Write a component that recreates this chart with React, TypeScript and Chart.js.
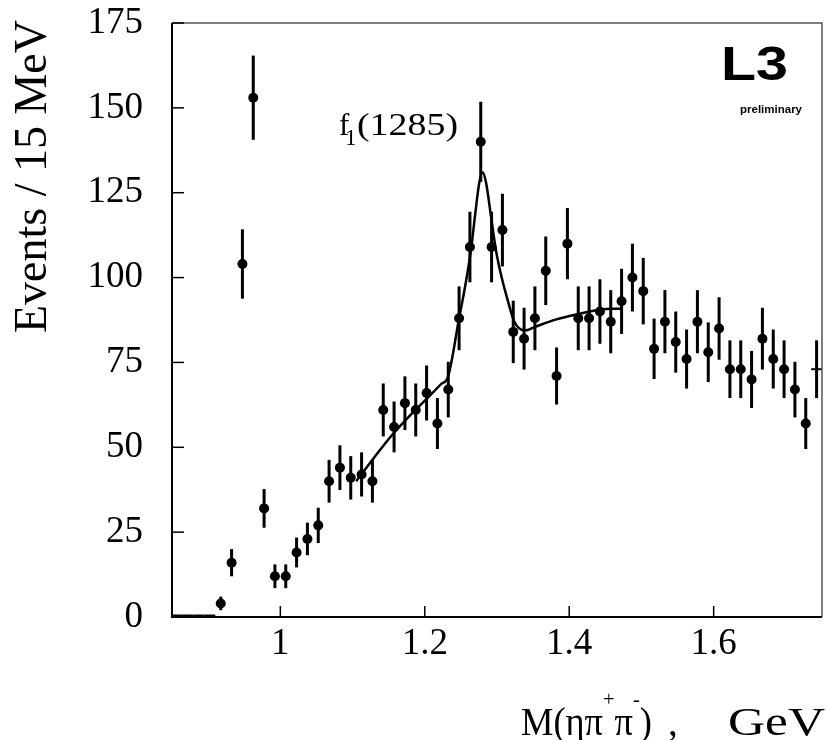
import React, { useEffect, useRef } from 'react';
import { Chart, registerables } from 'chart.js';

Chart.register(...registerables);

// ---- data ----
const massBins = [
  0.9175, 0.9325, 0.9475, 0.9625, 0.9775, 0.9925, 1.0075, 1.0225, 1.0375, 1.0525,
  1.0675, 1.0825, 1.0975, 1.1125, 1.1275, 1.1425, 1.1575, 1.1725, 1.1875, 1.2025,
  1.2175, 1.2325, 1.2475, 1.2625, 1.2775, 1.2925, 1.3075, 1.3225, 1.3375, 1.3525,
  1.3675, 1.3825, 1.3975, 1.4125, 1.4275, 1.4425, 1.4575, 1.4725, 1.4875, 1.5025,
  1.5175, 1.5325, 1.5475, 1.5625, 1.5775, 1.5925, 1.6075, 1.6225, 1.6375, 1.6525,
  1.6675, 1.6825, 1.6975, 1.7125, 1.7275,
];
const eventCounts = [
  4, 16, 104, 153, 32, 12, 12, 19, 23, 27,
  40, 44, 41, 42, 40, 61, 56, 63, 61, 66,
  57, 67, 88, 109, 140, 109, 114, 84, 82, 88,
  102, 71, 110, 88, 88, 90, 87, 93, 100, 96,
  79, 87, 81, 76, 87, 78, 85, 73, 73, 70,
  82, 76, 73, 67, 57,
];
const countErrors = [
  2, 4, 10.2, 12.4, 5.7, 3.5, 3.5, 4.4, 4.8, 5.2,
  6.3, 6.6, 6.4, 6.5, 6.3, 7.8, 7.5, 7.9, 7.8, 8.1,
  7.5, 8.2, 9.4, 10.4, 11.8, 10.4, 10.7, 9.2, 9.1, 9.4,
  10.1, 8.4, 10.5, 9.4, 9.4, 9.5, 9.3, 9.6, 10, 9.8,
  8.9, 9.3, 9, 8.7, 9.3, 8.8, 9.2, 8.5, 8.5, 8.4,
  9.1, 8.7, 8.5, 8.2, 7.5,
];
// last bin, at the right edge, drawn as a cross (no dot)
const edgeBinMass = [1.7425];
const edgeBinCount = [73];
const edgeBinError = [8.5];
// empty bins at the low-mass end
const zeroBins = [0.8575, 0.8725, 0.8875, 0.9025];
const binHalfWidth = 0.0075;

// fitted curve
const fitMass = [
  1.105, 1.13, 1.155, 1.18, 1.205, 1.222, 1.2325, 1.2475, 1.2525, 1.258,
  1.264, 1.27, 1.2755, 1.28, 1.2848, 1.2917, 1.2986, 1.3065, 1.3146, 1.324,
  1.3385, 1.354, 1.381, 1.4135, 1.444, 1.46, 1.4745,
];
const fitCurve = [
  40, 47, 53.7, 59.5, 64.8, 68.5, 71, 88, 93.5, 100,
  108.2, 119, 128, 131, 128, 118, 108, 100, 93.5, 87,
  84.4, 85.6, 87.6, 89.3, 90.6, 90.8, 90.8,
];

const xTickValues = [1, 1.2, 1.4, 1.6];
const xTickLabels = ['1', '1.2', '1.4', '1.6'];
const yTickValues = [0, 25, 50, 75, 100, 125, 150, 175];
const yTickLabels = ['0', '25', '50', '75', '100', '125', '150', '175'];

const SERIF = '"Liberation Serif", "Times New Roman", serif';
const SANS = '"Liberation Sans", Arial, sans-serif';

function fitText(ctx: any, text: string, font: string, x: number, y: number, width: number) {
  ctx.save();
  ctx.font = font;
  ctx.textAlign = 'left';
  const w = ctx.measureText(text).width;
  ctx.translate(x, y);
  ctx.scale(width / w, 1);
  ctx.fillText(text, 0, 0);
  ctx.restore();
}

const overlayPlugin = {
  id: 'overlay',
  afterDatasetsDraw(chart: any) {
    const { ctx, chartArea, scales } = chart;
    const x = scales.x;
    const y = scales.y;
    ctx.save();
    ctx.beginPath();
    ctx.rect(chartArea.left, chartArea.top, chartArea.width, chartArea.height);
    ctx.clip();
    ctx.strokeStyle = '#000';
    ctx.lineCap = 'butt';
    ctx.lineWidth = 3;
    massBins.forEach((m, i) => {
      const px = x.getPixelForValue(m);
      ctx.beginPath();
      ctx.moveTo(px, y.getPixelForValue(eventCounts[i] - countErrors[i]));
      ctx.lineTo(px, y.getPixelForValue(eventCounts[i] + countErrors[i]));
      ctx.stroke();
    });
    edgeBinMass.forEach((m, i) => {
      const px = x.getPixelForValue(m);
      const py = y.getPixelForValue(edgeBinCount[i]);
      ctx.lineWidth = 3;
      ctx.beginPath();
      ctx.moveTo(px, y.getPixelForValue(edgeBinCount[i] - edgeBinError[i]));
      ctx.lineTo(px, y.getPixelForValue(edgeBinCount[i] + edgeBinError[i]));
      ctx.stroke();
      ctx.lineWidth = 2;
      ctx.beginPath();
      ctx.moveTo(x.getPixelForValue(m - binHalfWidth), py);
      ctx.lineTo(x.getPixelForValue(m + binHalfWidth), py);
      ctx.stroke();
    });
    ctx.lineWidth = 3;
    zeroBins.forEach((m) => {
      const py = y.getPixelForValue(0) - 1;
      ctx.beginPath();
      ctx.moveTo(x.getPixelForValue(m - binHalfWidth), py);
      ctx.lineTo(x.getPixelForValue(m + binHalfWidth), py);
      ctx.stroke();
    });
    ctx.restore();
  },
  afterDraw(chart: any) {
    const { ctx, chartArea, scales } = chart;
    const x = scales.x;
    const y = scales.y;
    const { left, right, top, bottom } = chartArea;
    ctx.save();
    // frame
    ctx.strokeStyle = '#555';
    ctx.lineWidth = 1.5;
    ctx.beginPath();
    ctx.moveTo(left, top);
    ctx.lineTo(right, top);
    ctx.lineTo(right, bottom);
    ctx.stroke();
    ctx.strokeStyle = '#000';
    ctx.lineWidth = 2;
    ctx.beginPath();
    ctx.moveTo(left, top);
    ctx.lineTo(left, bottom);
    ctx.lineTo(right, bottom);
    ctx.stroke();
    // inner ticks
    ctx.lineWidth = 1.5;
    yTickValues.forEach((v) => {
      const py = y.getPixelForValue(v);
      ctx.beginPath();
      ctx.moveTo(left, py);
      ctx.lineTo(left + 12, py);
      ctx.stroke();
    });
    xTickValues.forEach((v) => {
      const px = x.getPixelForValue(v);
      ctx.beginPath();
      ctx.moveTo(px, bottom);
      ctx.lineTo(px, bottom - 11);
      ctx.stroke();
    });

    ctx.fillStyle = '#000';
    ctx.textBaseline = 'alphabetic';

    // y title
    ctx.save();
    ctx.translate(46, 20);
    ctx.rotate(-Math.PI / 2);
    ctx.font = `46px ${SERIF}`;
    ctx.textAlign = 'right';
    ctx.fillText('Events / 15 MeV', 0, 0);
    ctx.restore();

    // x title  M(ηπ+π-) ,  GeV
    ctx.save();
    const big = `39px ${SERIF}`;
    const small = `22px ${SERIF}`;
    const parts = [
      { t: 'M(ηπ', f: big, dy: 0 },
      { t: '+', f: small, dy: -29 },
      { t: 'π', f: big, dy: 0 },
      { t: '-', f: small, dy: -29 },
      { t: ')', f: big, dy: 0 },
    ];
    let total = 0;
    const widths = parts.map((p) => {
      ctx.font = p.f;
      const w = ctx.measureText(p.t).width;
      total += w;
      return w;
    });
    ctx.translate(521, 735);
    ctx.scale(131 / total, 1);
    ctx.textAlign = 'left';
    let cx = 0;
    parts.forEach((p, i) => {
      ctx.font = p.f;
      ctx.fillText(p.t, cx, p.dy);
      cx += widths[i];
    });
    ctx.restore();
    ctx.save();
    ctx.font = big;
    ctx.textAlign = 'left';
    ctx.fillText(',', 668, 735);
    ctx.restore();
    fitText(ctx, 'GeV', `40px ${SERIF}`, 728, 735, 97);

    // f1(1285) label
    ctx.save();
    ctx.textAlign = 'left';
    ctx.font = `31px ${SERIF}`;
    ctx.fillText('f', 339, 135);
    ctx.font = `23px ${SERIF}`;
    ctx.fillText('1', 345, 145);
    ctx.restore();
    fitText(ctx, '(1285)', `31px ${SERIF}`, 357, 135, 101);

    // L3 logo
    fitText(ctx, 'L3', `bold 49px ${SANS}`, 721, 80, 67);
    ctx.save();
    ctx.textAlign = 'left';
    ctx.font = `bold 11.5px ${SANS}`;
    ctx.fillText('preliminary', 740, 113);
    ctx.restore();

    ctx.restore();
  },
};

export default function App() {
  const ref = useRef<HTMLCanvasElement>(null);
  useEffect(() => {
    if (!ref.current) return;
    const chart = new Chart(ref.current, {
      type: 'scatter',
      data: {
        datasets: [
          {
            label: 'fit',
            data: fitMass.map((m, i) => ({ x: m, y: fitCurve[i] })),
            showLine: true,
            borderColor: '#000',
            borderWidth: 2.5,
            pointRadius: 0,
            cubicInterpolationMode: 'monotone',
            fill: false,
          } as any,
          {
            label: 'data',
            data: massBins.map((m, i) => ({ x: m, y: eventCounts[i] })),
            pointRadius: 5,
            pointBackgroundColor: '#000',
            pointBorderColor: '#000',
            pointBorderWidth: 0,
            showLine: false,
          },
          {
            label: 'edge',
            data: edgeBinMass.map((m, i) => ({ x: m, y: edgeBinCount[i] })),
            pointRadius: 0,
            showLine: false,
          },
          {
            label: 'empty',
            data: zeroBins.map((m) => ({ x: m, y: 0 })),
            pointRadius: 0,
            showLine: false,
          },
        ],
      },
      options: {
        animation: false,
        responsive: false,
        devicePixelRatio: 1,
        layout: { padding: { top: 23, right: 2, left: 0, bottom: 0 } },
        plugins: { legend: { display: false }, tooltip: { enabled: false } },
        scales: {
          x: {
            type: 'linear',
            min: 0.85,
            max: 1.75,
            grid: { display: false, drawTicks: false },
            border: { display: false },
            afterBuildTicks: (s: any) => {
              s.ticks = xTickValues.map((v) => ({ value: v }));
            },
            afterFit: (s: any) => {
              s.height = 123;
              s.paddingLeft = 0;
              s.paddingRight = 0;
              s.paddingTop = 0;
              s.paddingBottom = 0;
            },
            ticks: {
              padding: 5,
              color: '#000',
              autoSkip: false,
              maxRotation: 0,
              font: { family: SERIF, size: 37 },
              callback: (_v: any, i: number) => xTickLabels[i],
            },
          },
          y: {
            type: 'linear',
            min: 0,
            max: 175,
            grid: { display: false, drawTicks: false },
            border: { display: false },
            afterBuildTicks: (s: any) => {
              s.ticks = yTickValues.map((v) => ({ value: v }));
            },
            afterFit: (s: any) => {
              s.width = 172;
              s.paddingLeft = 0;
              s.paddingRight = 0;
              s.paddingTop = 0;
              s.paddingBottom = 0;
            },
            ticks: {
              padding: 29,
              color: '#000',
              autoSkip: false,
              font: { family: SERIF, size: 37 },
              callback: (_v: any, i: number) => yTickLabels[i],
            },
          },
        },
      },
      plugins: [overlayPlugin],
    } as any);
    return () => chart.destroy();
  }, []);
  return (
    <div style={{ position: 'absolute', left: 0, top: 0, width: 827, height: 740, background: '#fff' }}>
      <canvas ref={ref} width={827} height={740} style={{ display: 'block' }} />
    </div>
  );
}
